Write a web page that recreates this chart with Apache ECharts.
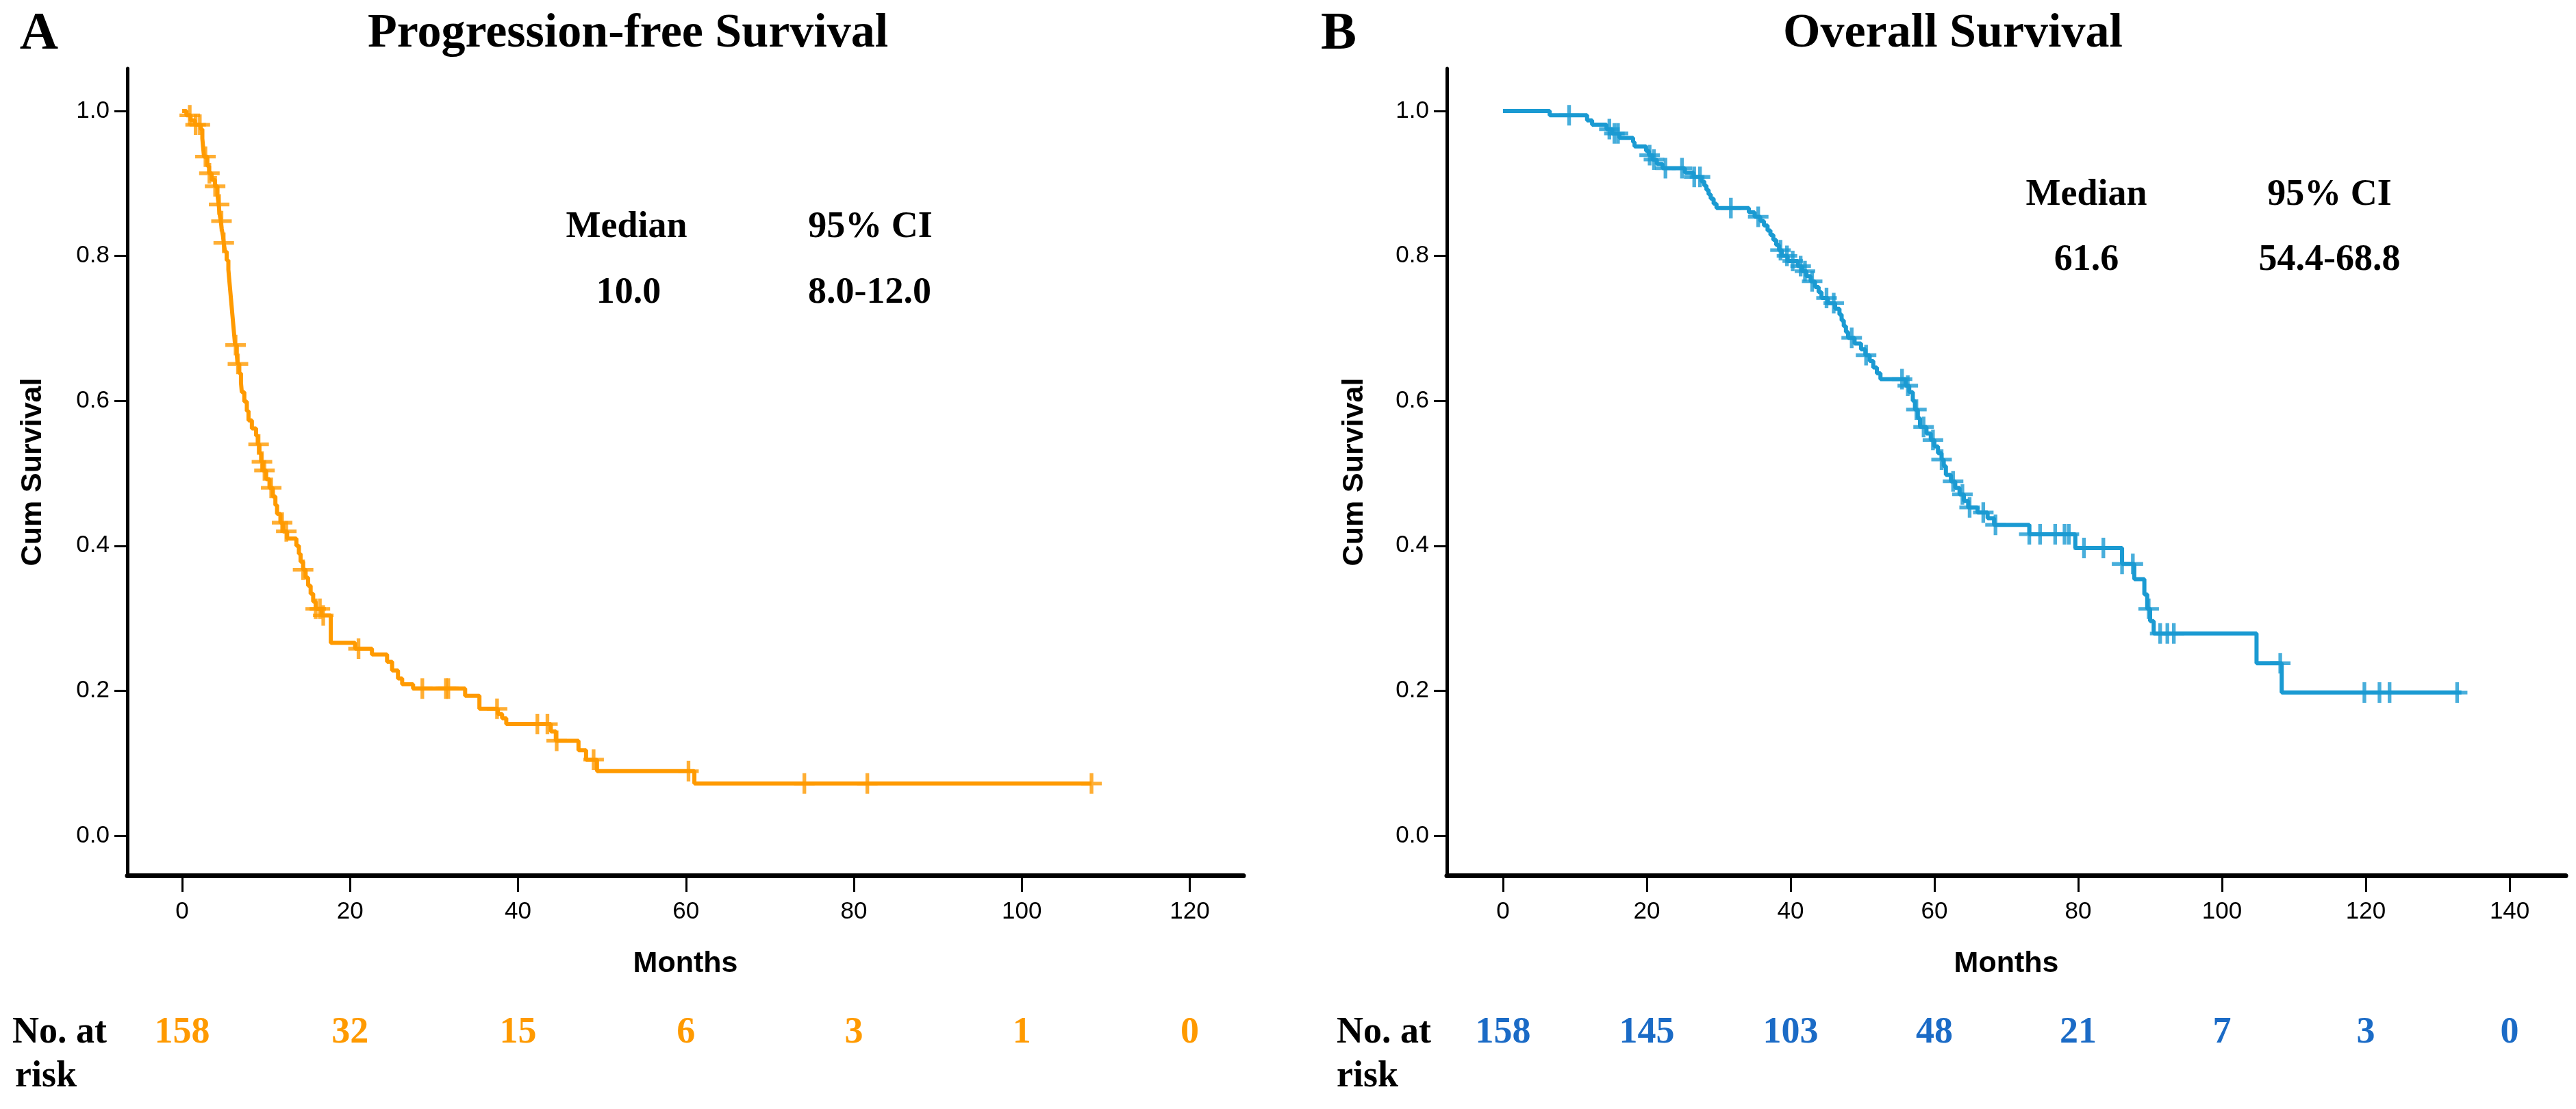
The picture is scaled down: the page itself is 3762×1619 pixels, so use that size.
<!DOCTYPE html>
<html>
<head>
<meta charset="utf-8">
<script src="https://cdn.jsdelivr.net/npm/echarts@6/dist/echarts.min.js"></script>
<style>
html,body{margin:0;padding:0;background:#fff;}
#chart{width:3762px;height:1619px;}
</style>
</head>
<body>
<div id="chart"></div>
<script>
// ---------- DATA ----------
const xTicksPFS = [0, 20, 40, 60, 80, 100, 120];
const xTicksOS = [0, 20, 40, 60, 80, 100, 120, 140];
const yTicks = [0, 0.2, 0.4, 0.6, 0.8, 1.0];

const riskPFS = [158, 32, 15, 6, 3, 1, 0];
const riskOS = [158, 145, 103, 48, 21, 7, 3, 0];

// Kaplan-Meier steps: [month, survival after drop]
const pfsSteps = [
  [0,1.0],[0.5,0.994],[1.0,0.987],[1.5,0.981],[2.2,0.975],[2.4,0.962],[2.5,0.949],[2.6,0.937],
  [3.0,0.924],[3.2,0.914],[3.5,0.905],[3.9,0.896],[4.2,0.884],[4.35,0.871],[4.45,0.858],[4.6,0.848],
  [4.7,0.838],[4.85,0.828],[4.95,0.818],[5.1,0.806],[5.3,0.794],[5.5,0.781],[5.6,0.768],[5.7,0.755],
  [5.8,0.742],[5.9,0.729],[6.0,0.716],[6.1,0.703],[6.2,0.690],[6.3,0.677],[6.5,0.664],[6.6,0.651],
  [6.8,0.638],[7.0,0.625],[7.1,0.612],[7.4,0.599],[7.7,0.586],[7.9,0.573],[8.3,0.562],[8.8,0.552],
  [9.0,0.540],[9.2,0.528],[9.4,0.516],[9.6,0.504],[10.0,0.492],[10.4,0.480],[10.8,0.468],[11.1,0.456],
  [11.3,0.444],[11.7,0.432],[12.0,0.420],[12.5,0.410],[13.6,0.400],[13.9,0.389],[14.1,0.378],[14.4,0.367],
  [14.7,0.356],[15.0,0.345],[15.3,0.334],[15.6,0.323],[15.9,0.313],[16.6,0.304],[17.7,0.266],[20.6,0.258],
  [22.6,0.250],[24.4,0.240],[25.0,0.228],[25.7,0.217],[26.2,0.209],[27.5,0.203],[33.7,0.193],[35.4,0.175],
  [37.6,0.168],[38.1,0.162],[38.6,0.154],[43.9,0.144],[44.5,0.131],[47.2,0.118],[48.1,0.105],[49.4,0.089],
  [61.0,0.072]
];
const pfsEnd = 108.3;
const pfsCensor = [0.9, 1.6, 2.1, 2.77, 3.24, 3.92, 4.4, 4.68, 4.95, 6.36, 6.64, 9.1, 9.5, 9.8, 10.6,
  11.9, 12.4, 14.4, 15.9, 16.4, 16.8, 21.0, 28.6, 31.4, 31.7, 37.5, 42.3, 43.5, 44.6, 49.0, 60.3,
  74.1, 81.6, 108.3];

const osSteps = [
  [0,1.0],[6.5,0.994],[11.7,0.987],[12.4,0.981],[14.4,0.975],[15.2,0.969],[16.2,0.963],[18.1,0.957],
  [18.3,0.951],[19.9,0.945],[20.3,0.939],[20.8,0.933],[21.4,0.927],[22.2,0.921],[25.3,0.915],[26.5,0.909],
  [27.6,0.903],[28.0,0.897],[28.3,0.891],[28.6,0.885],[28.9,0.879],[29.3,0.872],[29.7,0.866],[34.2,0.860],
  [35.0,0.854],[35.8,0.848],[36.3,0.842],[36.8,0.835],[37.2,0.829],[37.6,0.822],[38.0,0.815],[38.4,0.808],
  [38.8,0.800],[39.6,0.793],[41.0,0.786],[41.6,0.779],[42.2,0.772],[42.8,0.765],[43.4,0.757],[43.9,0.750],
  [44.3,0.742],[45.2,0.735],[46.2,0.727],[46.8,0.719],[47.1,0.711],[47.4,0.703],[47.7,0.695],[48.0,0.687],
  [48.9,0.679],[49.8,0.671],[50.4,0.663],[51.0,0.655],[51.5,0.646],[52.0,0.638],[52.5,0.630],[56.0,0.621],
  [56.5,0.612],[57.0,0.600],[57.3,0.588],[57.7,0.576],[58.0,0.564],[58.9,0.555],[59.5,0.546],[60.0,0.537],
  [60.5,0.528],[61.0,0.519],[61.3,0.510],[61.6,0.498],[62.3,0.489],[62.9,0.480],[63.5,0.471],[64.1,0.462],
  [64.7,0.453],[66.0,0.446],[67.4,0.438],[68.3,0.429],[73.2,0.416],[79.6,0.397],[86.1,0.375],[87.8,0.354],
  [89.2,0.333],[89.6,0.313],[90.0,0.296],[90.5,0.279],[104.8,0.238],[108.3,0.1975]
];
const osEnd = 133.3;
const osCensor = [9.2, 14.8, 15.5, 16.0, 20.4, 21.0, 22.6, 24.9, 26.6, 27.4, 31.7, 35.5, 38.6, 39.5,
  40.3, 41.4, 42.0, 43.0, 45.0, 46.0, 48.5, 50.5, 55.5, 56.3, 57.5, 58.5, 59.8, 61.0, 62.6, 63.9, 64.9,
  66.8, 68.5, 73.2, 74.7, 76.8, 78.1, 78.7, 80.8, 83.5, 86.1, 87.6, 89.8, 91.4, 92.4, 93.3, 108.1,
  119.8, 121.9, 123.3, 132.7];

// ---------- HELPERS ----------
function survAt(steps, t) {
  let v = steps[0][1];
  for (const [tt, s] of steps) { if (tt <= t) v = s; else break; }
  return v;
}
function lineData(steps, end) {
  return steps.concat([[end, steps[steps.length - 1][1]]]);
}
function censorData(steps, times) {
  return times.map(t => [t, survAt(steps, t)]);
}

const ORANGE = '#FF9A00';
const BLUE = '#1A9AD2';
const BLUE_TXT = '#1B6BC6';
const SANS = 'Liberation Sans, Arial, sans-serif';
const SERIF = 'Liberation Serif, Times New Roman, serif';
const CROSS = 'path://M-7,-1.25L-1.25,-1.25L-1.25,-7L1.25,-7L1.25,-1.25L7,-1.25L7,1.25L1.25,1.25L1.25,7L-1.25,7L-1.25,1.25L-7,1.25Z';

function xAxisCfg(grid, min, max, ticks) {
  return {
    gridIndex: grid, type: 'value', min: min, max: max,
    axisLine: { show: true, onZero: false, lineStyle: { color: '#000', width: 7 } },
    axisTick: { show: true, length: 24, customValues: ticks, lineStyle: { color: '#000', width: 3 } },
    axisLabel: { show: true, customValues: ticks, margin: 36, fontSize: 35, fontFamily: SANS, color: '#000' },
    splitLine: { show: false }
  };
}
function yAxisCfg(grid) {
  return {
    gridIndex: grid, type: 'value', min: -0.0548, max: 1.0586,
    axisLine: { show: true, onZero: false, lineStyle: { color: '#000', width: 5 } },
    axisTick: { show: true, length: 19, customValues: yTicks, lineStyle: { color: '#000', width: 3 } },
    axisLabel: { show: true, customValues: yTicks, margin: 26, fontSize: 35, fontFamily: SANS, color: '#000',
      formatter: v => Number(v).toFixed(1) },
    splitLine: { show: false }
  };
}

const chart = echarts.init(document.getElementById('chart'), null, { renderer: 'canvas' });

chart.setOption({
  backgroundColor: '#fff',
  animation: false,
  grid: [
    { left: 186, top: 100, width: 1630, height: 1178 },
    { left: 2113, top: 100, width: 1634, height: 1178 }
  ],
  xAxis: [
    xAxisCfg(0, -6.53, 126.4, xTicksPFS),
    xAxisCfg(1, -7.8, 147.8, xTicksOS)
  ],
  yAxis: [yAxisCfg(0), yAxisCfg(1)],
  series: [
    { type: 'line', xAxisIndex: 0, yAxisIndex: 0, step: 'end', showSymbol: false,
      data: lineData(pfsSteps, pfsEnd), lineStyle: { color: ORANGE, width: 6 }, itemStyle: { color: ORANGE } },
    { type: 'scatter', xAxisIndex: 0, yAxisIndex: 0, symbol: CROSS, symbolSize: 30,
      data: censorData(pfsSteps, pfsCensor), itemStyle: { color: ORANGE } },
    { type: 'line', xAxisIndex: 1, yAxisIndex: 1, step: 'end', showSymbol: false,
      data: lineData(osSteps, osEnd), lineStyle: { color: BLUE, width: 6 }, itemStyle: { color: BLUE } },
    { type: 'scatter', xAxisIndex: 1, yAxisIndex: 1, symbol: CROSS, symbolSize: 30,
      data: censorData(osSteps, osCensor), itemStyle: { color: BLUE } }
  ]
});

// ---------- TEXT ----------
function txt(x, y, text, size, opts) {
  opts = opts || {};
  return {
    type: 'text', x: x, y: y, rotation: opts.rotation || 0, silent: true,
    style: {
      text: text, fontSize: size, fontFamily: opts.family || SERIF,
      fontWeight: opts.weight || 'bold', fill: opts.color || '#000',
      textAlign: opts.align || 'center', textVerticalAlign: 'middle'
    }
  };
}

const g = [];
g.push(txt(57, 51, 'A', 78));
g.push(txt(917, 50, 'Progression-free Survival', 70));
g.push(txt(1955, 51, 'B', 78));
g.push(txt(2852, 50, 'Overall Survival', 70));

g.push(txt(915, 332, 'Median', 54));
g.push(txt(1271, 332, '95% CI', 54));
g.push(txt(918, 428, '10.0', 54));
g.push(txt(1270, 428, '8.0-12.0', 54));

g.push(txt(3047, 285, 'Median', 54));
g.push(txt(3402, 285, '95% CI', 54));
g.push(txt(3047, 380, '61.6', 54));
g.push(txt(3402, 380, '54.4-68.8', 54));

g.push(txt(48, 689, 'Cum Survival', 43, { family: SANS, rotation: Math.PI / 2 }));
g.push(txt(1978, 689, 'Cum Survival', 43, { family: SANS, rotation: Math.PI / 2 }));

const midL = chart.convertToPixel({ gridIndex: 0 }, [(-6.53 + 126.4) / 2, 0])[0];
const midR = chart.convertToPixel({ gridIndex: 1 }, [(-7.8 + 147.8) / 2, 0])[0];
g.push(txt(midL, 1407, 'Months', 43, { family: SANS }));
g.push(txt(midR, 1407, 'Months', 43, { family: SANS }));

g.push(txt(18, 1508, 'No. at', 54, { align: 'left' }));
g.push(txt(22, 1572, 'risk', 54, { align: 'left' }));
g.push(txt(1952, 1508, 'No. at', 54, { align: 'left' }));
g.push(txt(1952, 1572, 'risk', 54, { align: 'left' }));

xTicksPFS.forEach((t, i) => {
  const px = chart.convertToPixel({ gridIndex: 0 }, [t, 0])[0];
  g.push(txt(px, 1508, String(riskPFS[i]), 54, { color: ORANGE }));
});
xTicksOS.forEach((t, i) => {
  const px = chart.convertToPixel({ gridIndex: 1 }, [t, 0])[0];
  g.push(txt(px, 1508, String(riskOS[i]), 54, { color: BLUE_TXT }));
});

chart.setOption({ graphic: g });
</script>
</body>
</html>
